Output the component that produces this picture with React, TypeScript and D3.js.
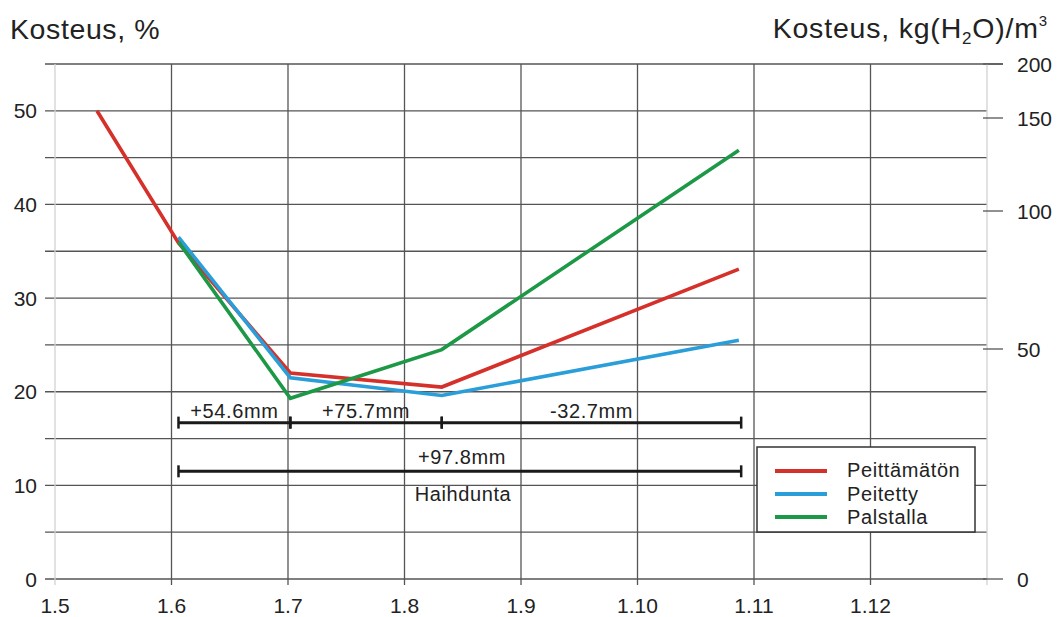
import React from "react";
import * as d3 from "d3";

// x positions are expressed as month number (5 = 1.5, 6 = 1.6, ..., 12 = 1.12)
const xTickValues = [5, 6, 7, 8, 9, 10, 11, 12];
const xTickLabels = ["1.5", "1.6", "1.7", "1.8", "1.9", "1.10", "1.11", "1.12"];
const yLeftTicks = [0, 10, 20, 30, 40, 50];
const yGrid = [0, 5, 10, 15, 20, 25, 30, 35, 40, 45, 50, 55];
const yRightTicks = [0, 50, 100, 150, 200];

const redX = [5.36, 6.06, 7.02, 8.32, 10.87];
const redY = [50.0, 35.9, 22.0, 20.5, 33.1];
const blueX = [6.06, 7.02, 8.32, 10.87];
const blueY = [36.5, 21.5, 19.6, 25.5];
const greenX = [6.06, 7.02, 8.32, 10.87];
const greenY = [36.0, 19.3, 24.5, 45.8];

const seriesNames = ["Peittämätön", "Peitetty", "Palstalla"];
const seriesColors = ["#d5302a", "#2a9ed8", "#1c9847"];

const periodStarts = [6.06, 7.02, 8.32];
const periodEnds = [7.02, 8.32, 10.89];
const periodLabels = ["+54.6mm", "+75.7mm", "-32.7mm"];
const periodLevel = 16.7;
const totalStart = 6.06;
const totalEnd = 10.89;
const totalLabel = "+97.8mm";
const totalLevel = 11.5;
const totalCaption = "Haihdunta";

const W = 1061;
const H = 617;
const FONT = "'Liberation Sans', Arial, Helvetica, sans-serif";

export default function App() {
  const x = d3.scaleLinear().domain([5, 13]).range([55, 987]);
  const y = d3.scaleLinear().domain([0, 55]).range([579, 64]);
  const yR = d3
    .scaleLinear()
    .domain([0, 50, 100, 150, 200])
    .range([579, 349, 211, 118, 64]);

  const line = d3
    .line<[number, number]>()
    .x((d) => x(d[0]))
    .y((d) => y(d[1]));

  const series = [
    d3.zip(redX, redY) as [number, number][],
    d3.zip(blueX, blueY) as [number, number][],
    d3.zip(greenX, greenY) as [number, number][],
  ];

  const gridColor = "#555";
  const axisLight = "#d2d2d2";
  const left = x(5);
  const right = x(13);
  const ls = 0.6;

  return (
    <svg
      width={W}
      height={H}
      style={{ position: "absolute", left: 0, top: 0, background: "#fff" }}
      fontFamily={FONT}
    >
      <rect x={0} y={0} width={W} height={H} fill="#fff" />
      {/* titles */}
      <text x={10} y={39} fontSize={28.5} fill="#222" letterSpacing={0.6}>
        Kosteus, %
      </text>
      <text x={1048} y={38} fontSize={28.5} fill="#222" textAnchor="end" letterSpacing={0.8}>
        Kosteus, kg(H
        <tspan fontSize={17} dy={6}>2</tspan>
        <tspan dy={-6}>O)/m</tspan>
        <tspan fontSize={15} dy={-12}>3</tspan>
      </text>

      {/* horizontal grid */}
      {yGrid.map((v) => (
        <line
          key={"h" + v}
          x1={45}
          x2={v === 55 ? 1003 : right}
          y1={y(v)}
          y2={y(v)}
          stroke={gridColor}
          strokeWidth={1.3}
        />
      ))}
      {/* vertical grid */}
      {xTickValues.slice(1).map((v) => (
        <line
          key={"v" + v}
          x1={x(v)}
          x2={x(v)}
          y1={y(55)}
          y2={585}
          stroke={gridColor}
          strokeWidth={1.3}
        />
      ))}
      {/* left & right axis lines */}
      <line x1={left} x2={left} y1={y(55)} y2={585} stroke={axisLight} strokeWidth={1.3} />
      <line x1={right} x2={right} y1={y(55)} y2={585} stroke={axisLight} strokeWidth={1.3} />

      {/* left tick labels */}
      {yLeftTicks.map((v) => (
        <text key={"yl" + v} x={37} y={y(v) + 7.5} fontSize={21} fill="#222" textAnchor="end">
          {v}
        </text>
      ))}
      {/* bottom tick labels */}
      {xTickValues.map((v, i) => (
        <text key={"xl" + v} x={x(v)} y={613} fontSize={21} fill="#222" textAnchor="middle">
          {xTickLabels[i]}
        </text>
      ))}
      {/* right ticks */}
      {yRightTicks.map((v) => (
        <g key={"yr" + v}>
          <line x1={983} x2={1003} y1={yR(v)} y2={yR(v)} stroke={gridColor} strokeWidth={1.3} />
          <text x={1017} y={yR(v) + 7.5} fontSize={21} fill="#222">
            {v}
          </text>
        </g>
      ))}

      {/* data lines */}
      {series.map((s, i) => (
        <path
          key={"s" + i}
          d={line(s) || ""}
          fill="none"
          stroke={seriesColors[i]}
          strokeWidth={3.6}
          strokeLinejoin="miter"
        />
      ))}

      {/* period annotations */}
      {periodStarts.map((s, i) => (
        <g key={"p" + i}>
          <line x1={x(s)} x2={x(periodEnds[i])} y1={y(periodLevel)} y2={y(periodLevel)} stroke="#1a1a1a" strokeWidth={3} />
          <line x1={x(s)} x2={x(s)} y1={y(periodLevel) - 6} y2={y(periodLevel) + 6} stroke="#1a1a1a" strokeWidth={2.5} />
          <line x1={x(periodEnds[i])} x2={x(periodEnds[i])} y1={y(periodLevel) - 6} y2={y(periodLevel) + 6} stroke="#1a1a1a" strokeWidth={2.5} />
          <text
            x={(x(s) + x(periodEnds[i])) / 2}
            y={y(periodLevel) - 4.5}
            fontSize={20}
            fill="#222"
            textAnchor="middle"
            letterSpacing={ls}
          >
            {periodLabels[i]}
          </text>
        </g>
      ))}
      <line x1={x(totalStart)} x2={x(totalEnd)} y1={y(totalLevel)} y2={y(totalLevel)} stroke="#1a1a1a" strokeWidth={3} />
      <line x1={x(totalStart)} x2={x(totalStart)} y1={y(totalLevel) - 6} y2={y(totalLevel) + 6} stroke="#1a1a1a" strokeWidth={2.5} />
      <line x1={x(totalEnd)} x2={x(totalEnd)} y1={y(totalLevel) - 6} y2={y(totalLevel) + 6} stroke="#1a1a1a" strokeWidth={2.5} />
      <text x={462} y={464} fontSize={20} fill="#222" textAnchor="middle" letterSpacing={ls}>
        {totalLabel}
      </text>
      <text x={463} y={501} fontSize={20} fill="#222" textAnchor="middle" letterSpacing={ls}>
        {totalCaption}
      </text>

      {/* legend */}
      <g>
        <rect x={757} y={447} width={218} height={85} fill="#fff" stroke="#333" strokeWidth={1.5} />
        {seriesNames.map((n, i) => (
          <g key={"lg" + i}>
            <line x1={775} x2={827} y1={471 + i * 23} y2={471 + i * 23} stroke={seriesColors[i]} strokeWidth={4} />
            <text x={847} y={477 + i * 23.5} fontSize={20} fill="#222" letterSpacing={ls}>
              {n}
            </text>
          </g>
        ))}
      </g>
    </svg>
  );
}
